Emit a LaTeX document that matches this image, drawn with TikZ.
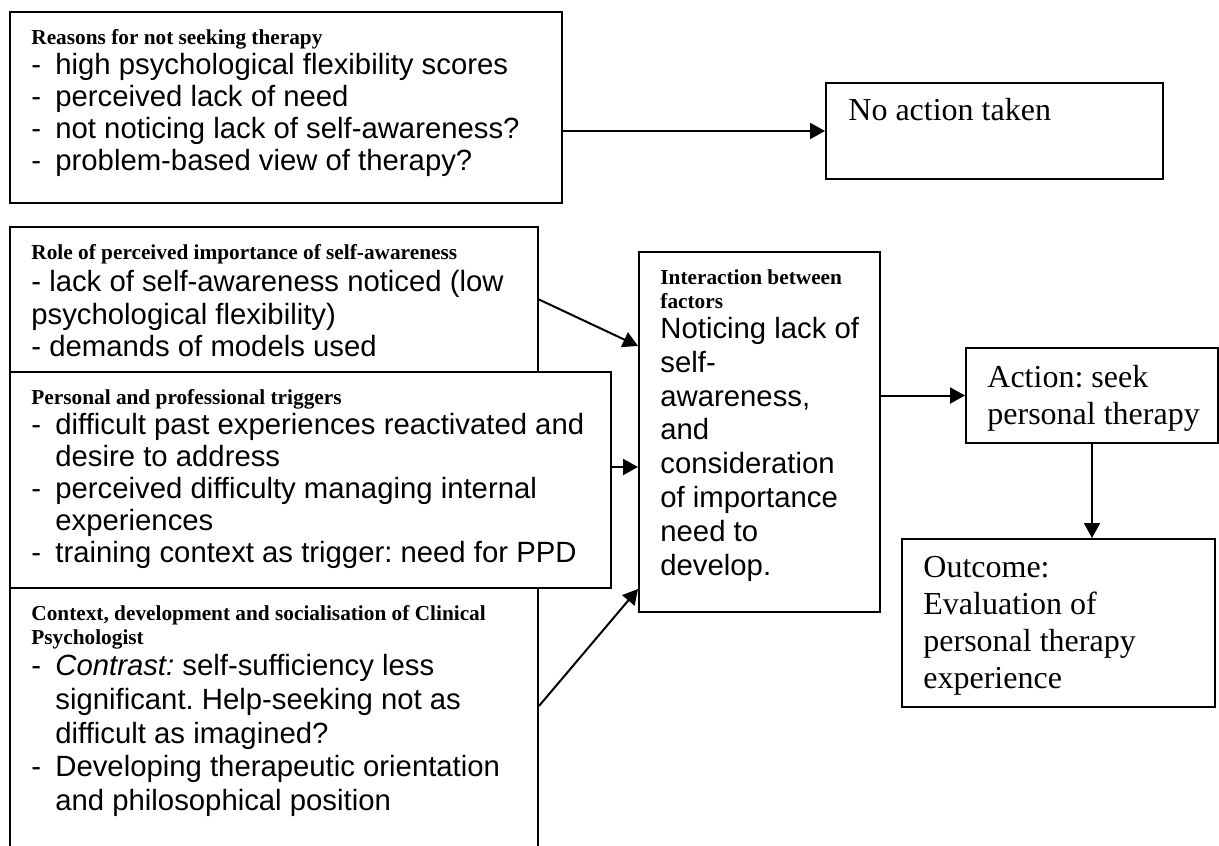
\documentclass[tikz,border=0pt]{standalone}
\usepackage{fontspec}
\setmainfont{Liberation Serif}
\newfontfamily\arialfont{Liberation Sans}
\usetikzlibrary{arrows.meta,fit}
\frenchspacing

\tikzset{
  box/.style={draw, line width=1pt, inner sep=0pt},
  arr/.style={line width=1pt, -{Triangle[length=7.5pt,width=8pt]}},
  hdr/.style={anchor=base west, inner sep=0pt, font=\fontsize{10.65}{12}\selectfont\bfseries},
  hdrblock/.style={anchor=north west, inner sep=0pt, align=left, font=\fontsize{10.65}{12}\selectfont\bfseries},
  body/.style={anchor=north west, inner sep=0pt, align=left, font=\arialfont\fontsize{14.65}{#1}\selectfont},
  body/.default={16.25},
  serifbody/.style={anchor=north west, inner sep=0pt, align=left, font=\fontsize{16}{18.5}\selectfont},
}
\newcommand{\dashitem}{\makebox[12pt][l]{-}}
\newcommand{\hang}{\hspace*{12pt}}

\begin{document}
\begin{tikzpicture}[x=0.5pt, y=-0.5pt]
  \useasboundingbox (0,0) rectangle (1219,845);

  % boxes
  \node[box, fit={(10,12) (562,203)}] (reasons) {};
  \node[box, fit={(826,83) (1163,179)}] (noact) {};
  \node[box, fit={(10,227) (538,372)}] (role) {};
  \node[box, fit={(10,372) (611,588)}] (triggers) {};
  \node[box, fit={(10,588) (538,852)}] (context) {};
  \node[box, fit={(639,252) (880,612)}] (inter) {};
  \node[box, fit={(966,348) (1218,443)}] (action) {};
  \node[box, fit={(902,539) (1215,707)}] (outcome) {};

  % texts: reasons for not seeking therapy
  \node[hdr] (reasonsT) at (31,44.5) {Reasons for not seeking therapy};
  \node[body=16] (reasonsB) at (31,51.4) {\strut\dashitem high psychological flexibility scores\\
    \dashitem perceived lack of need\\
    \dashitem not noticing lack of self-awareness?\\
    \dashitem problem-based view of therapy?};

  \node[serifbody, anchor=base west] (noactT) at (848,121) {No action taken};

  % role of perceived importance
  \node[hdr] (roleT) at (31,259) {Role of perceived importance of self-awareness};
  \node[body] (roleB) at (31,268.4) {\strut- lack of self-awareness noticed (low\\
    psychological flexibility)\\
    - demands of models used};

  % personal and professional triggers
  \node[hdr] (trigT) at (31,404) {Personal and professional triggers};
  \node[body=16] (trigB) at (31,411.4) {\strut\dashitem difficult past experiences reactivated and\\
    \hang desire to address\\
    \dashitem perceived difficulty managing internal\\
    \hang experiences\\
    \dashitem training context as trigger: need for PPD};

  % context, development and socialisation
  \node[hdrblock] (ctxT) at (31,603.2) {\strut Context, development and socialisation of Clinical\\Psychologist};
  \node[body=16.9] (ctxB) at (31,651.4) {\strut\dashitem\textit{Contrast:} self-sufficiency less\\
    \hang significant. Help-seeking not as\\
    \hang difficult as imagined?\\
    \dashitem Developing therapeutic orientation\\
    \hang and philosophical position};

  % interaction between factors
  \node[hdrblock] (interT) at (660,267.2) {\strut Interaction between\\factors};
  \node[body=16.9] (interB) at (660,314.4) {\strut Noticing lack of\\
    self-\\
    awareness,\\
    and\\
    consideration\\
    of importance\\
    need to\\
    develop.};

  % action and outcome
  \node[serifbody] (actionT) at (987,361.1) {\strut Action: seek\\personal therapy};
  \node[serifbody] (outcomeT) at (923,551.1) {\strut Outcome:\\Evaluation of\\personal therapy\\experience};

  % connectors
  \draw[arr] (noact.west -| reasons.east) -- (noact.west);
  \draw[arr] (role.east) -- ([shift={(0,95)}]inter.north west);
  \draw[arr] ([shift={(0,96)}]triggers.north east) -- ([shift={(0,216)}]inter.north west);
  \draw[arr] ([shift={(0,119)}]context.north east) -- ([shift={(0,-24)}]inter.south west);
  \draw[arr] (inter.east |- action.west) -- (action.west);
  \draw[arr] (action.south) -- (outcome.north -| action.south);
\end{tikzpicture}
\end{document}
